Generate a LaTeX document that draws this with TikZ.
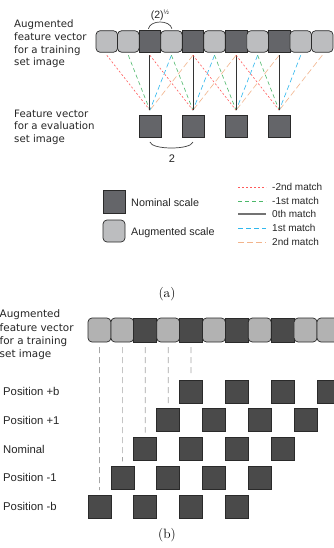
\documentclass[tikz,border=0pt]{standalone}
\usepackage{fontspec}
\usetikzlibrary{calc}
\newfontfamily\labelfont{DejaVu Sans}
\newfontfamily\keyfont{Liberation Sans}

\definecolor{nomA}{HTML}{646569}
\definecolor{augA}{HTML}{BCBDBF}
\definecolor{nomB}{HTML}{4A4A4A}
\definecolor{augB}{HTML}{B2B2B2}
\definecolor{edge}{HTML}{2A2A2A}
\definecolor{mRed}{HTML}{FF5A5A}
\definecolor{mGreen}{HTML}{4CB86A}
\definecolor{mBlue}{HTML}{2FB8EE}
\definecolor{mOrange}{HTML}{F2B48C}
\definecolor{mBlack}{HTML}{333333}

\begin{document}
\begin{tikzpicture}[x=1pt,y=-1pt,
  cell/.style={draw=edge, line width=0.7pt, inner sep=0pt, outer sep=0pt},
  nomA/.style={cell, fill=nomA, minimum width=21.55pt, minimum height=21.5pt},
  augA/.style={cell, fill=augA, rounded corners=4pt, minimum width=21.55pt, minimum height=21.5pt},
  evalA/.style={cell, fill=nomA, minimum width=22pt, minimum height=22pt},
  nomB/.style={cell, fill=nomB, minimum width=22.9pt, minimum height=24pt},
  augB/.style={cell, fill=augB, rounded corners=4pt, minimum width=22.9pt, minimum height=24pt},
  posB/.style={cell, fill=nomB, minimum width=23pt, minimum height=23pt},
  mtwo/.style={mRed, line width=0.6pt, dash pattern=on 2pt off 2pt},
  mone/.style={mGreen, line width=0.6pt, dash pattern=on 4pt off 3pt},
  mzero/.style={mBlack, line width=0.8pt},
  pone/.style={mBlue, line width=0.6pt, dash pattern=on 5pt off 3pt},
  ptwo/.style={mOrange, line width=0.6pt, dash pattern=on 6pt off 3pt},
  keyline/.style={line width=0.9pt},
  vline/.style={black!35, line width=0.7pt, dash pattern=on 6pt off 4pt},
  brace/.style={black!75, line width=0.7pt},
  sidetext/.style={font=\labelfont\fontsize{10.2}{12.6}\selectfont, text=black!85, align=left, anchor=west, inner sep=0pt},
  keytext/.style={font=\keyfont\fontsize{10.8}{13}\selectfont, text=black!85, anchor=west, inner sep=0pt},
  matchtext/.style={font=\keyfont\fontsize{10}{12}\selectfont, text=black!85, anchor=west, inner sep=0pt},
  rowtext/.style={font=\keyfont\fontsize{11.3}{13}\selectfont, text=black!85, anchor=west, inner sep=0pt},
  captext/.style={font=\fontsize{13.5}{15}\selectfont, inner sep=0pt}]

\clip (0,0) rectangle (334,548);
\fill[white] (0,0) rectangle (334,548);

% ---------- (a) scale matching ----------
\node[sidetext] (trainA) at (14,44) {Augmented\\feature vector\\for a training\\set image};
\node[sidetext] (evalT) at (14,127) {Feature vector\\for a evaluation\\set image};

\foreach \i/\s in {0/augA,1/augA,2/nomA,3/augA,4/nomA,5/augA,6/nomA,7/augA,8/nomA,9/augA,10/augA}
  \node[\s] (t\i) at ({106.78+21.55*\i},41.5) {};

\foreach \k in {2,4,6,8}{
  \coordinate (c\k) at ($(t\k.south)+(0,58)$);
  \node[evalA] (e\k) at ($(t\k.center)+(0,84.5)$) {};
}

\foreach \k in {2,4,6,8}{
  \pgfmathtruncatemacro{\ma}{\k-2}
  \pgfmathtruncatemacro{\mb}{\k-1}
  \pgfmathtruncatemacro{\pa}{\k+1}
  \pgfmathtruncatemacro{\pb}{\k+2}
  \draw[ptwo] ([yshift=-3pt]t\pb.south) -- (c\k);
  \draw[pone] ([yshift=-3pt]t\pa.south) -- (c\k);
  \draw[mone] ([yshift=-3pt]t\mb.south) -- (c\k);
  \draw[mtwo] ([yshift=-3pt]t\ma.south) -- (c\k);
  \draw[mzero] ([yshift=-3pt]t\k.south) -- (c\k);
}

% spacing marks
\draw[brace] ($(t2.north)+(-1.5,-2)$) .. controls +(2,-9) and +(-2,-9) .. ($(t3.north)+(0.5,-2)$);
\node[font=\keyfont\fontsize{10.5}{12}\selectfont, text=black!85, inner sep=0pt] (rt2) at (160,15)
  {(2)\raisebox{4pt}{\fontsize{6.5}{7}\selectfont ½}};
\draw[brace] ($(e2.south)+(0,5)$) .. controls +(2,8) and +(-2,8) .. ($(e4.south)+(0,5)$);
\node[font=\keyfont\fontsize{11}{12}\selectfont, text=black!85, inner sep=0pt] (two) at (172,159) {2};

% legend
\node[nomA, minimum width=22pt, minimum height=23pt] (nomkey) at (114,201.5) {};
\node[augA, minimum width=22pt, minimum height=22pt] (augkey) at (114,231) {};
\node[keytext] (nomlab) at (131,202.5) {Nominal scale};
\node[keytext] (auglab) at (131,232.5) {Augmented scale};

\foreach \n/\y/\s/\lab in {a/187/mtwo/-2nd match,b/201/mone/-1st match,d/228/pone/1st match,e/242/ptwo/2nd match}{
  \coordinate (k\n1) at (238,\y);
  \coordinate (k\n2) at (266,\y);
  \draw[\s, keyline] (k\n1) -- (k\n2);
  \node[matchtext] (kt\n) at (272,\y) {\lab};
}
\coordinate (kc1) at (238,214);
\coordinate (kc2) at (266,214);
\draw[black!55, line width=1.2pt] (kc1) -- (kc2);
\node[matchtext] (ktc) at (272,214) {0th match};

\node[captext] (capA) at (167,294) {(a)};

% ---------- (b) position shifting ----------
\node[sidetext, font=\labelfont\fontsize{10.4}{13.3}\selectfont] (trainB) at (-0.5,335) {Augmented\\feature vector\\for a training\\set image};

\foreach \i/\s in {0/augB,1/augB,2/nomB,3/augB,4/nomB,5/augB,6/nomB,7/augB,8/nomB,9/augB,10/augB}
  \node[\s] (u\i) at ({99.45+22.9*\i},330) {};

\foreach \r/\lab in {0/Position -b,1/Position -1,2/Nominal,3/Position +1,4/Position +b}{
  \foreach \j in {0,...,3}
    \node[posB] (p\r\j) at ({99.5+22.9*\r+45.8*\j},{506.5-28.75*\r}) {};
  \node[rowtext] (rl\r) at (3,{506.5-28.75*\r}) {\lab};
  \draw[vline] ([yshift=-5pt]u\r.south) -- ([yshift=5pt]p\r0.north);
}

\node[captext] (capB) at (167,535) {(b)};
\end{tikzpicture}
\end{document}
